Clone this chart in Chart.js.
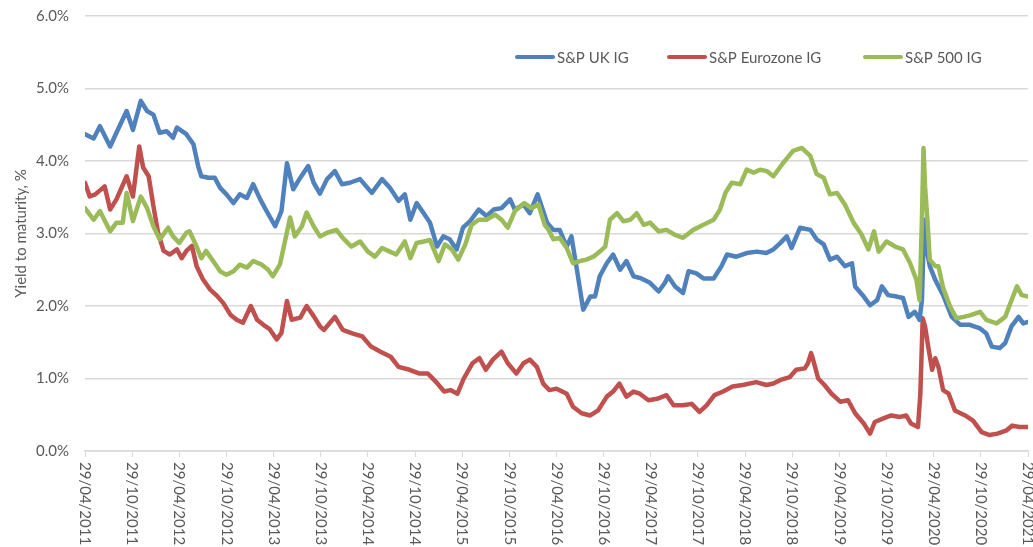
<!DOCTYPE html>
<html>
<head>
<meta charset="utf-8">
<script src="https://cdn.jsdelivr.net/npm/chart.js@4.4.1/dist/chart.umd.min.js"></script>
<style>
  html, body { margin: 0; padding: 0; background: #fff; }
  #wrap { width: 1033px; height: 547px; }
</style>
</head>
<body>
<div id="wrap"><canvas id="ytmChart" width="1033" height="547"></canvas></div>
<script>
// x values are months after 29/04/2011
const tickLabels = ['29/04/2011', '29/10/2011', '29/04/2012', '29/10/2012', '29/04/2013', '29/10/2013',
  '29/04/2014', '29/10/2014', '29/04/2015', '29/10/2015', '29/04/2016', '29/10/2016', '29/04/2017',
  '29/10/2017', '29/04/2018', '29/10/2018', '29/04/2019', '29/10/2019', '29/04/2020', '29/10/2020', '29/04/2021'];

const seriesNames = ['S&P UK IG', 'S&P Eurozone IG', 'S&P 500 IG'];

const ukMonths = [0, 1.1, 1.9, 3.2, 4.0, 5.3, 6.1, 7.1, 7.9, 8.7,
  9.5, 10.4, 11.2, 11.7, 12.9, 13.8, 14.4, 14.8, 15.7, 16.5,
  17.2, 18.0, 18.9, 19.7, 20.6, 21.4, 22.3, 23.1, 24.2, 25.0,
  25.7, 26.5, 27.4, 28.4, 29.1, 29.9, 30.8, 31.8, 32.7, 33.7,
  35.0, 36.5, 37.8, 38.8, 39.9, 40.7, 41.4, 42.2, 43.1, 43.9,
  44.8, 45.6, 46.4, 47.3, 48.1, 49.0, 50.1, 51.1, 52.0, 53.0,
  54.1, 54.7, 55.8, 56.6, 57.6, 58.8, 59.6, 60.4, 61.3, 61.9,
  62.6, 63.4, 64.3, 64.9, 65.5, 66.4, 67.2, 68.1, 68.9, 69.8,
  70.8, 71.9, 73.0, 73.8, 74.2, 75.1, 76.1, 76.8, 77.8, 78.7,
  80.0, 81.0, 81.7, 82.9, 84.2, 85.5, 86.7, 87.6, 88.5, 89.3,
  89.9, 91.0, 92.3, 93.1, 94.0, 94.8, 95.7, 96.7, 97.6, 98.0,
  99.1, 99.9, 100.8, 101.4, 102.2, 103.3, 104.1, 104.8, 105.6, 106.2,
  106.5, 106.8, 107.1, 107.5, 108.2, 109.2, 110.3, 111.4, 112.6, 113.9,
  114.7, 115.4, 116.4, 117.1, 117.9, 118.8, 119.4, 120];
const ukYield = [4.37, 4.31, 4.48, 4.20, 4.39, 4.69, 4.43, 4.83, 4.69, 4.64,
  4.39, 4.41, 4.32, 4.46, 4.37, 4.23, 3.93, 3.79, 3.77, 3.77,
  3.63, 3.54, 3.42, 3.54, 3.49, 3.68, 3.47, 3.31, 3.10, 3.31,
  3.97, 3.61, 3.77, 3.93, 3.70, 3.55, 3.75, 3.86, 3.68, 3.70,
  3.75, 3.56, 3.75, 3.63, 3.45, 3.54, 3.19, 3.42, 3.28, 3.15,
  2.82, 2.96, 2.92, 2.78, 3.08, 3.17, 3.33, 3.24, 3.33, 3.35,
  3.47, 3.33, 3.40, 3.28, 3.54, 3.15, 3.05, 3.05, 2.82, 2.96,
  2.50, 1.95, 2.13, 2.13, 2.41, 2.59, 2.71, 2.50, 2.62, 2.41,
  2.38, 2.32, 2.20, 2.32, 2.41, 2.27, 2.18, 2.48, 2.45, 2.38,
  2.38, 2.55, 2.71, 2.68, 2.73, 2.75, 2.73, 2.78, 2.87, 2.96,
  2.80, 3.08, 3.05, 2.92, 2.85, 2.64, 2.68, 2.55, 2.59, 2.27,
  2.13, 2.01, 2.08, 2.27, 2.15, 2.13, 2.11, 1.85, 1.92, 1.81,
  2.08, 3.19, 2.78, 2.55, 2.36, 2.15, 1.85, 1.74, 1.74, 1.69,
  1.62, 1.44, 1.42, 1.49, 1.72, 1.85, 1.76, 1.78];

const ezMonths = [0, 0.6, 1.3, 2.5, 3.2, 4.0, 5.3, 6.1, 6.9, 7.4,
  8.1, 8.7, 9.3, 10.0, 10.8, 11.7, 12.3, 12.9, 13.6, 14.2,
  15.0, 15.9, 16.8, 17.6, 18.5, 19.3, 20.1, 21.1, 21.9, 22.7,
  23.5, 24.4, 25.0, 25.7, 26.3, 27.4, 28.2, 29.1, 29.9, 30.4,
  31.8, 32.8, 34.1, 35.3, 36.4, 37.6, 38.9, 39.9, 41.3, 42.5,
  43.6, 44.7, 45.7, 46.5, 47.4, 48.2, 49.3, 50.2, 51.0, 51.9,
  53.0, 53.8, 54.9, 55.8, 56.6, 57.5, 58.3, 59.1, 60.0, 61.3,
  62.1, 63.2, 64.3, 65.3, 66.4, 67.2, 68.0, 68.9, 69.8, 70.6,
  71.7, 72.8, 74.0, 74.9, 76.1, 77.2, 78.2, 79.1, 80.1, 81.2,
  82.4, 83.7, 85.4, 86.7, 87.6, 88.5, 89.7, 90.5, 91.6, 92.0,
  92.4, 92.6, 93.3, 94.1, 95.0, 96.1, 97.1, 98.0, 99.1, 99.9,
  100.5, 101.6, 102.6, 103.7, 104.5, 105.1, 106.0, 106.3, 106.6, 106.9,
  107.3, 107.8, 108.2, 108.6, 109.2, 109.9, 110.7, 112.0, 113.0, 114.1,
  115.1, 116.1, 117.2, 118.0, 118.9, 120];
const ezYield = [3.70, 3.51, 3.54, 3.65, 3.33, 3.47, 3.79, 3.51, 4.20, 3.91,
  3.79, 3.38, 3.01, 2.76, 2.71, 2.78, 2.66, 2.76, 2.83, 2.55,
  2.37, 2.23, 2.14, 2.04, 1.88, 1.81, 1.77, 2.00, 1.81, 1.74,
  1.68, 1.54, 1.63, 2.07, 1.81, 1.84, 2.00, 1.86, 1.72, 1.67,
  1.85, 1.67, 1.62, 1.58, 1.44, 1.37, 1.30, 1.16, 1.12, 1.07,
  1.07, 0.95, 0.82, 0.84, 0.79, 1.00, 1.21, 1.28, 1.12, 1.26,
  1.37, 1.21, 1.07, 1.21, 1.26, 1.16, 0.93, 0.84, 0.86, 0.79,
  0.61, 0.52, 0.49, 0.56, 0.75, 0.82, 0.93, 0.75, 0.82, 0.79,
  0.70, 0.72, 0.77, 0.63, 0.63, 0.65, 0.54, 0.63, 0.77, 0.82,
  0.89, 0.91, 0.95, 0.91, 0.93, 0.98, 1.02, 1.12, 1.14, 1.21,
  1.35, 1.28, 1.00, 0.91, 0.79, 0.68, 0.70, 0.52, 0.38, 0.24,
  0.40, 0.45, 0.49, 0.47, 0.49, 0.38, 0.33, 0.79, 1.83, 1.72,
  1.44, 1.12, 1.28, 1.16, 0.84, 0.79, 0.56, 0.49, 0.42, 0.26,
  0.22, 0.24, 0.28, 0.35, 0.33, 0.33];

const usMonths = [0, 1.1, 1.9, 3.2, 4.0, 4.8, 5.3, 6.1, 7.1, 7.9,
  8.7, 9.5, 10.6, 11.2, 12.0, 12.9, 13.3, 14.0, 14.8, 15.4,
  16.3, 17.2, 18.0, 18.9, 19.7, 20.6, 21.4, 22.5, 23.3, 23.9,
  24.8, 25.4, 26.1, 26.7, 27.6, 28.2, 29.1, 29.9, 30.8, 32.0,
  32.8, 33.9, 35.0, 36.0, 36.9, 37.8, 38.8, 39.6, 40.7, 41.4,
  42.2, 43.1, 43.9, 45.0, 45.8, 46.7, 47.5, 48.4, 49.2, 50.1,
  51.1, 52.2, 53.0, 53.8, 54.7, 55.9, 56.8, 57.7, 58.5, 59.0,
  59.6, 60.4, 61.3, 62.1, 63.0, 63.8, 64.7, 65.5, 66.2, 66.8,
  67.7, 68.5, 69.4, 70.2, 71.1, 71.9, 73.0, 74.0, 75.1, 76.1,
  77.4, 78.7, 80.0, 80.8, 81.5, 82.3, 83.4, 84.2, 85.1, 85.9,
  86.8, 87.6, 88.9, 90.1, 91.2, 92.3, 93.1, 94.0, 94.8, 95.7,
  96.7, 97.8, 98.8, 99.7, 100.4, 101.0, 102.0, 103.1, 104.1, 105.0,
  105.8, 106.2, 106.5, 106.7, 106.9, 107.2, 107.5, 108.2, 108.6, 109.2,
  110.1, 110.9, 111.8, 112.6, 113.9, 114.7, 116.0, 117.1, 117.9, 118.6,
  119.2, 120];
const usYield = [3.35, 3.19, 3.31, 3.03, 3.15, 3.15, 3.56, 3.17, 3.51, 3.35,
  3.10, 2.92, 3.08, 2.96, 2.87, 3.01, 3.03, 2.87, 2.66, 2.76,
  2.62, 2.48, 2.43, 2.48, 2.57, 2.53, 2.62, 2.57, 2.50, 2.41,
  2.57, 2.87, 3.22, 2.96, 3.10, 3.29, 3.10, 2.96, 3.01, 3.05,
  2.94, 2.82, 2.89, 2.75, 2.68, 2.80, 2.75, 2.71, 2.89, 2.66,
  2.87, 2.89, 2.91, 2.62, 2.85, 2.78, 2.64, 2.85, 3.12, 3.19,
  3.19, 3.26, 3.19, 3.08, 3.31, 3.42, 3.35, 3.40, 3.12, 3.05,
  2.92, 2.94, 2.80, 2.59, 2.62, 2.64, 2.68, 2.75, 2.82, 3.19,
  3.28, 3.17, 3.19, 3.28, 3.12, 3.15, 3.03, 3.05, 2.98, 2.94,
  3.05, 3.12, 3.19, 3.33, 3.56, 3.70, 3.68, 3.88, 3.84, 3.88,
  3.86, 3.79, 3.98, 4.14, 4.18, 4.07, 3.82, 3.77, 3.54, 3.56,
  3.40, 3.15, 2.99, 2.78, 3.03, 2.75, 2.89, 2.82, 2.78, 2.59,
  2.36, 2.08, 3.19, 4.18, 3.65, 3.19, 2.64, 2.55, 2.55, 2.25,
  1.99, 1.83, 1.85, 1.87, 1.92, 1.81, 1.76, 1.85, 2.08, 2.27,
  2.15, 2.13];

const FONT = 'Lato, "Open Sans", sans-serif';
const TEXT_COLOR = '#595959';
const GRID_COLOR = '#d9d9d9';

function toPoints(months, values) {
  return months.map((m, i) => ({ x: m, y: values[i] }));
}

// rotated date labels, reading top to bottom like the original
const dateLabelsPlugin = {
  id: 'dateLabels',
  afterDraw(chart) {
    const ctx = chart.ctx;
    const xs = chart.scales.x;
    ctx.save();
    ctx.fillStyle = TEXT_COLOR;
    ctx.font = '15px ' + FONT;
    ctx.textAlign = 'left';
    ctx.textBaseline = 'middle';
    tickLabels.forEach((label, i) => {
      const px = xs.getPixelForValue(i * 6);
      ctx.save();
      ctx.translate(px, xs.top + 11);
      ctx.rotate(Math.PI / 2);
      ctx.fillText(label, 0, 0);
      ctx.restore();
    });
    ctx.restore();
  }
};

// legend sits inside the plot, between the 6% and 5% lines
const legendStarts = [515, 667, 863];
const insideLegendPlugin = {
  id: 'insideLegend',
  afterDraw(chart) {
    const ctx = chart.ctx;
    const y = 57;
    ctx.save();
    ctx.font = '15px ' + FONT;
    ctx.textBaseline = 'middle';
    ctx.textAlign = 'left';
    chart.data.datasets.forEach((ds, i) => {
      const x0 = legendStarts[i];
      ctx.strokeStyle = ds.borderColor;
      ctx.lineWidth = 4;
      ctx.lineCap = 'round';
      ctx.beginPath();
      ctx.moveTo(x0 + 2, y);
      ctx.lineTo(x0 + 38, y);
      ctx.stroke();
      ctx.fillStyle = TEXT_COLOR;
      ctx.fillText(ds.label, x0 + 42, y + 1);
    });
    ctx.restore();
  }
};

function lineSet(label, months, values, color, order) {
  return {
    label: label,
    data: toPoints(months, values),
    borderColor: color,
    backgroundColor: color,
    borderWidth: 4.5,
    pointRadius: 0,
    tension: 0,
    borderJoinStyle: 'round',
    borderCapStyle: 'round',
    order: order
  };
}

function initChart() {
  const ctx = document.getElementById('ytmChart').getContext('2d');
  new Chart(ctx, {
    type: 'line',
    data: {
      datasets: [
        lineSet(seriesNames[0], ukMonths, ukYield, '#4f81bd', 1),
        lineSet(seriesNames[1], ezMonths, ezYield, '#c0504d', 2),
        lineSet(seriesNames[2], usMonths, usYield, '#9bbb59', 0)
      ]
    },
    options: {
      responsive: false,
      animation: false,
      layout: { padding: { top: 16, right: 5, left: 0, bottom: 0 } },
      plugins: {
        legend: { display: false },
        tooltip: { enabled: false }
      },
      scales: {
        x: {
          type: 'linear',
          min: 0,
          max: 120,
          afterFit(scale) { scale.height = 96; },
          afterBuildTicks(scale) {
            scale.ticks = tickLabels.map((_, i) => ({ value: i * 6 }));
          },
          ticks: { display: false },
          grid: { drawOnChartArea: false, drawTicks: true, tickLength: 6, color: GRID_COLOR, lineWidth: 1 },
          border: { display: true, color: GRID_COLOR, width: 1.5 }
        },
        y: {
          min: 0,
          max: 6,
          afterFit(scale) {
            scale.width = 85;
            scale.paddingTop = 0;
          },
          ticks: {
            stepSize: 1,
            padding: 16,
            color: TEXT_COLOR,
            font: { family: FONT, size: 15 },
            callback: (v) => v.toFixed(1) + '%'
          },
          grid: { drawTicks: false, color: GRID_COLOR, lineWidth: 1.5 },
          border: { display: false },
          title: {
            display: true,
            text: 'Yield to maturity, %',
            color: TEXT_COLOR,
            font: { family: FONT, size: 15 },
            padding: { top: 12, bottom: 0 }
          }
        }
      }
    },
    plugins: [dateLabelsPlugin, insideLegendPlugin]
  });
}

document.addEventListener('DOMContentLoaded', initChart);
</script>
</body>
</html>
